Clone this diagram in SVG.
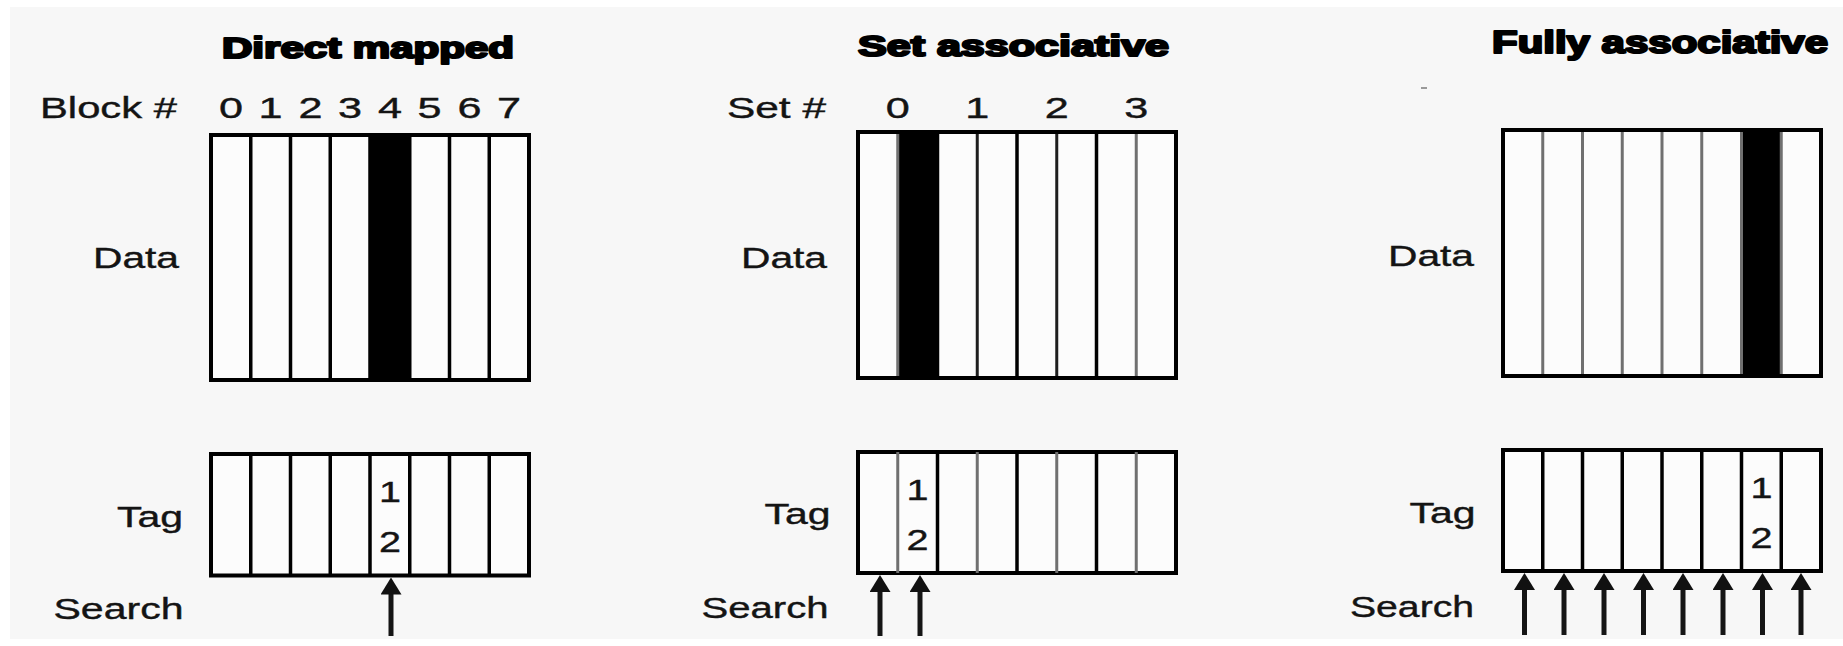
<svg xmlns="http://www.w3.org/2000/svg" width="1843" height="646" viewBox="0 0 1843 646">
  <style>
    .t { font-family: "Liberation Sans", Arial, sans-serif; font-size: 30px; fill: #141414; stroke: #141414; stroke-width: 0.4; }
    .h { font-family: "Liberation Sans", Arial, sans-serif; font-weight: bold; font-size: 30px; fill: #000; stroke: #000; stroke-width: 2.2; stroke-linejoin: round; }
    .box { fill: #fcfcfc; stroke: #000; stroke-width: 4; }
    .blk { fill: #000; }
    .dv { stroke: #000; stroke-width: 3.5; }
    .dvg { stroke: #707070; stroke-width: 3; }
    .dvd { stroke: #1e1e1e; stroke-width: 3; }
    .arr { stroke: #151515; stroke-width: 5; fill: none; marker-end: url(#head); }
  </style>
  <defs>
    <marker id="head" viewBox="0 0 17 21" refX="9" refY="10.5" markerWidth="17" markerHeight="21" markerUnits="userSpaceOnUse" orient="auto">
      <path d="M0,0 L17,10.5 L0,21 Z" fill="#111"/>
    </marker>
  </defs>

  <!-- page -->
  <rect x="0" y="0" width="1843" height="646" fill="#ffffff"/>
  <rect x="10" y="7" width="1833" height="632" fill="#f7f7f7"/>

  <!-- ===== Direct mapped ===== -->
  <g id="direct-mapped">
    <text class="h" x="222" y="58" textLength="292" lengthAdjust="spacingAndGlyphs">Direct mapped</text>
    <g id="dm-index">
      <text class="t" x="40" y="118" textLength="137" lengthAdjust="spacingAndGlyphs">Block #</text>
      <text class="t" x="218.9" y="118" textLength="24" lengthAdjust="spacingAndGlyphs">0</text>
      <text class="t" x="258.6" y="118" textLength="24" lengthAdjust="spacingAndGlyphs">1</text>
      <text class="t" x="298.4" y="118" textLength="24" lengthAdjust="spacingAndGlyphs">2</text>
      <text class="t" x="338.1" y="118" textLength="24" lengthAdjust="spacingAndGlyphs">3</text>
      <text class="t" x="377.9" y="118" textLength="24" lengthAdjust="spacingAndGlyphs">4</text>
      <text class="t" x="417.6" y="118" textLength="24" lengthAdjust="spacingAndGlyphs">5</text>
      <text class="t" x="457.4" y="118" textLength="24" lengthAdjust="spacingAndGlyphs">6</text>
      <text class="t" x="497.1" y="118" textLength="24" lengthAdjust="spacingAndGlyphs">7</text>
    </g>
    <g id="dm-data">
      <text class="t" x="93" y="268" textLength="86" lengthAdjust="spacingAndGlyphs">Data</text>
      <rect class="box" x="211" y="135" width="318" height="245"/>
      <rect class="blk" x="370" y="135" width="39.75" height="245"/>
      <path class="dv" d="M250.75,135V380 M290.5,135V380 M330.25,135V380 M370,135V380 M409.75,135V380 M449.5,135V380 M489.25,135V380"/>
      <rect x="211" y="135" width="318" height="245" fill="none" stroke="#000" stroke-width="4"/>
    </g>
    <g id="dm-tag">
      <text class="t" x="117" y="527" textLength="66" lengthAdjust="spacingAndGlyphs">Tag</text>
      <rect class="box" x="211" y="454" width="318" height="121.5"/>
      <path class="dv" d="M250.75,454V575.5 M290.5,454V575.5 M330.25,454V575.5 M370,454V575.5 M409.75,454V575.5 M449.5,454V575.5 M489.25,454V575.5"/>
      <text class="t" x="378.9" y="502" textLength="22" lengthAdjust="spacingAndGlyphs">1</text>
      <text class="t" x="378.9" y="552" textLength="22" lengthAdjust="spacingAndGlyphs">2</text>
    </g>
    <text class="t" x="53.5" y="619" textLength="130" lengthAdjust="spacingAndGlyphs">Search</text>
  </g>

  <!-- ===== Set associative ===== -->
  <g id="set-associative">
    <text class="h" x="858" y="56" textLength="311" lengthAdjust="spacingAndGlyphs">Set associative</text>
    <g id="sa-index">
      <text class="t" x="727" y="118" textLength="99" lengthAdjust="spacingAndGlyphs">Set #</text>
      <text class="t" x="885.75" y="118" textLength="24" lengthAdjust="spacingAndGlyphs">0</text>
      <text class="t" x="965.25" y="118" textLength="24" lengthAdjust="spacingAndGlyphs">1</text>
      <text class="t" x="1044.75" y="118" textLength="24" lengthAdjust="spacingAndGlyphs">2</text>
      <text class="t" x="1124.25" y="118" textLength="24" lengthAdjust="spacingAndGlyphs">3</text>
    </g>
    <g id="sa-data">
      <text class="t" x="741" y="268" textLength="86" lengthAdjust="spacingAndGlyphs">Data</text>
      <rect class="box" x="858" y="132" width="318" height="246"/>
      <rect class="blk" x="897.75" y="132" width="39.75" height="246"/>
      <path class="dvg" d="M897.75,132V378 M1136.25,132V378"/>
      <path class="dvd" d="M977.25,132V378 M1056.75,132V378"/>
      <path class="dv" d="M937.5,132V378 M1017,132V378 M1096.5,132V378"/>
      <rect x="858" y="132" width="318" height="246" fill="none" stroke="#000" stroke-width="4"/>
    </g>
    <g id="sa-tag">
      <text class="t" x="764.5" y="524" textLength="66" lengthAdjust="spacingAndGlyphs">Tag</text>
      <rect class="box" x="858" y="452" width="318" height="121"/>
      <path class="dvg" d="M897.75,452V573 M977.25,452V573 M1056.75,452V573 M1136.25,452V573" stroke-width="3.5"/>
      <path class="dv" d="M937.5,452V573 M1017,452V573 M1096.5,452V573"/>
      <text class="t" x="906.6" y="500" textLength="22" lengthAdjust="spacingAndGlyphs">1</text>
      <text class="t" x="906.6" y="550" textLength="22" lengthAdjust="spacingAndGlyphs">2</text>
    </g>
    <text class="t" x="701.5" y="618" textLength="127" lengthAdjust="spacingAndGlyphs">Search</text>
  </g>

  <!-- ===== Fully associative ===== -->
  <g id="fully-associative">
    <text class="h" x="1492" y="53" textLength="336" lengthAdjust="spacingAndGlyphs" style="font-size:32px">Fully associative</text>
    <rect x="1421" y="87" width="6" height="2" fill="#9a9a9a"/>
    <g id="fa-data">
      <text class="t" x="1388" y="266" textLength="86" lengthAdjust="spacingAndGlyphs">Data</text>
      <rect class="box" x="1503" y="130" width="318" height="246"/>
      <rect class="blk" x="1741.5" y="130" width="39.75" height="246"/>
      <path class="dvg" d="M1542.75,130V376 M1582.5,130V376 M1622.25,130V376 M1662,130V376 M1701.75,130V376 M1741.5,130V376 M1781.25,130V376"/>
      <rect x="1503" y="130" width="318" height="246" fill="none" stroke="#000" stroke-width="4"/>
    </g>
    <g id="fa-tag">
      <text class="t" x="1409.5" y="523" textLength="66" lengthAdjust="spacingAndGlyphs">Tag</text>
      <rect class="box" x="1503" y="450" width="318" height="121"/>
      <path class="dv" d="M1542.75,450V571 M1582.5,450V571 M1622.25,450V571 M1662,450V571 M1701.75,450V571 M1741.5,450V571 M1781.25,450V571"/>
      <text class="t" x="1750.4" y="498" textLength="22" lengthAdjust="spacingAndGlyphs">1</text>
      <text class="t" x="1750.4" y="548" textLength="22" lengthAdjust="spacingAndGlyphs">2</text>
    </g>
    <text class="t" x="1350" y="617" textLength="124" lengthAdjust="spacingAndGlyphs">Search</text>
  </g>

  <!-- ===== search arrows into the tag stores ===== -->
  <g id="connectors">
    <line class="arr" x1="391" y1="636" x2="391" y2="585.5"/>
    <line class="arr" x1="880" y1="636" x2="880" y2="583"/>
    <line class="arr" x1="920" y1="636" x2="920" y2="583"/>
    <line class="arr" x1="1524.5" y1="635" x2="1524.5" y2="581"/>
    <line class="arr" x1="1564" y1="635" x2="1564" y2="581"/>
    <line class="arr" x1="1604" y1="635" x2="1604" y2="581"/>
    <line class="arr" x1="1643.5" y1="635" x2="1643.5" y2="581"/>
    <line class="arr" x1="1683" y1="635" x2="1683" y2="581"/>
    <line class="arr" x1="1723" y1="635" x2="1723" y2="581"/>
    <line class="arr" x1="1762.5" y1="635" x2="1762.5" y2="581"/>
    <line class="arr" x1="1801" y1="635" x2="1801" y2="581"/>
  </g>
</svg>
